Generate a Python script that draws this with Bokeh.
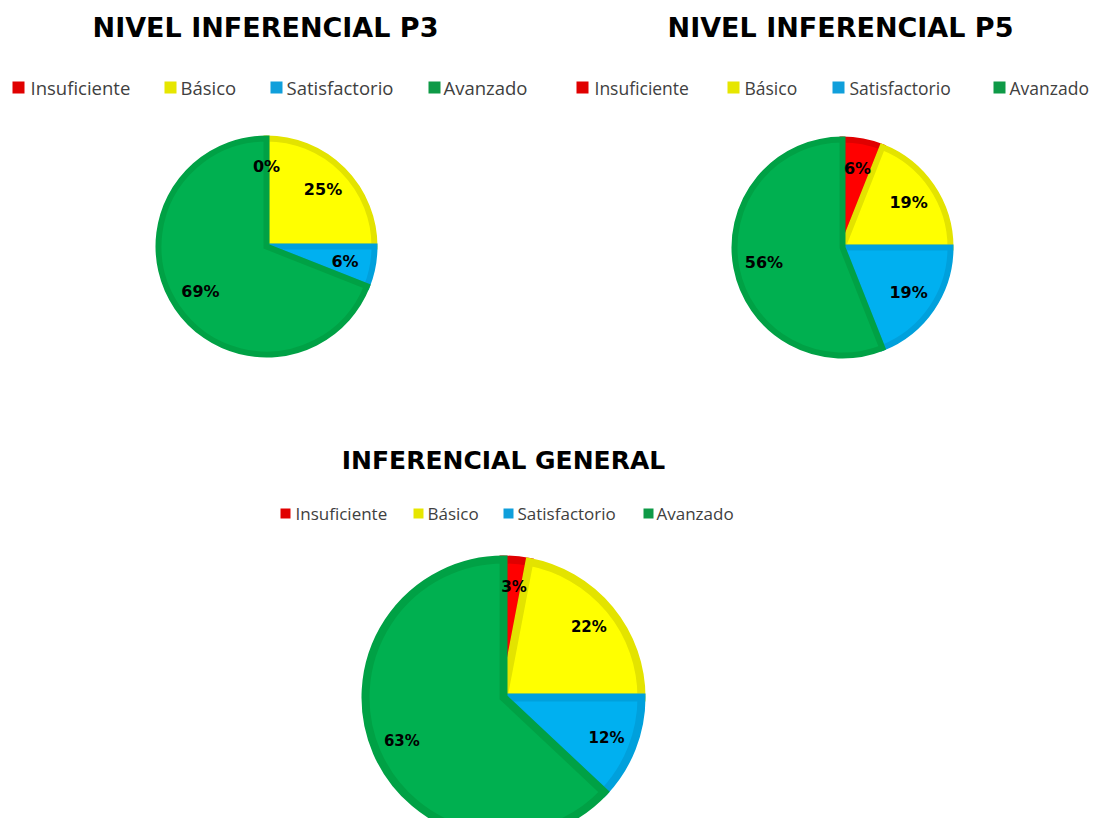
import numpy as np
from bokeh.plotting import figure
from bokeh.models import Range1d, ColumnDataSource
from bokeh.core.properties import value
from bokeh.embed import file_html
from bokeh.resources import INLINE

# ---------------- data ----------------
categories = ["Insuficiente", "Básico", "Satisfactorio", "Avanzado"]
p3_values = [0, 25, 6, 69]
p5_values = [6, 19, 19, 56]
general_values = [3, 22, 12, 63]
titles = ["NIVEL INFERENCIAL P3", "NIVEL INFERENCIAL P5", "INFERENCIAL GENERAL"]

# ---------------- styles ----------------
fill_colors = ["#FF0000", "#FFFF00", "#00B0F0", "#00B050"]
edge_colors = ["#E00000", "#E3E300", "#00A0DC", "#00A145"]
legend_colors = ["#E00000", "#E6E600", "#109FDB", "#0E9A47"]

H = 834
p = figure(width=1097, height=818, x_range=Range1d(0, 1097), y_range=Range1d(16, 834),
           output_backend="svg", toolbar_location=None, min_border=0)
p.axis.visible = False
p.grid.visible = False
p.outline_line_color = None
p.background_fill_color = "white"
p.border_fill_color = "white"


def Y(py):
    return H - py


def draw_pie(cx, cy, r, vals, lw, label_frac, label_size):
    fr = np.array(vals, dtype=float) / float(sum(vals))
    ends = np.cumsum(fr)
    starts = ends - fr
    start_ang = np.pi / 2 - ends * 2 * np.pi
    end_ang = np.pi / 2 - starts * 2 * np.pi
    keep = fr > 0
    src = ColumnDataSource(dict(
        start=start_ang[keep], end=end_ang[keep],
        fill=[c for c, k in zip(fill_colors, keep) if k],
        line=[c for c, k in zip(edge_colors, keep) if k],
    ))
    p.wedge(x=cx, y=Y(cy), radius=r - lw / 2, start_angle="start", end_angle="end",
            fill_color="fill", line_color="line", line_width=lw, line_join="miter",
            source=src)
    mid = (start_ang + end_ang) / 2
    lx = cx + label_frac * r * np.cos(mid)
    ly = Y(cy) + label_frac * r * np.sin(mid)
    labels = [f"{v}%" for v in vals]
    p.text(x=lx, y=ly, text=labels, text_align="center", text_baseline="middle",
           text_font=value("DejaVu Sans"), text_font_style="bold",
           text_font_size=f"{label_size}px", text_color="black")


def draw_title(cx, cy, txt, size):
    p.text(x=[cx], y=[Y(cy)], text=[txt], text_align="center", text_baseline="middle",
           text_font=value("DejaVu Sans"), text_font_style="bold",
           text_font_size=f"{size}px", text_color="black")


def draw_legend(sq_x, txt_x, cy, sq, size):
    p.rect(x=sq_x, y=[Y(cy)] * 4, width=sq, height=sq, fill_color=legend_colors,
           line_color=None)
    p.text(x=txt_x, y=[Y(cy)] * 4, text=categories, text_align="left",
           text_baseline="middle", text_font=value("Open Sans"),
           text_font_size=f"{size}px", text_color="#404040")


# P3
draw_title(265, 27, titles[0], 27)
draw_legend([18, 170, 276, 434], [30, 180, 286, 443], 87, 12, 18.5)
draw_pie(266, 246, 111, p3_values, 6, 0.72, 16)

# P5
draw_title(840, 27, titles[1], 27)
draw_legend([582, 733, 838, 999], [594, 744, 849, 1009], 87, 12, 17.5)
draw_pie(842, 247, 111, p5_values, 6, 0.72, 16)

# General
draw_title(503, 460, titles[2], 25)
draw_legend([285, 418, 508, 648], [295, 427, 517, 656], 513, 10, 17)
draw_pie(503, 697, 142, general_values, 8, 0.78, 15)

open("out.html", "w").write(file_html(p, INLINE))
